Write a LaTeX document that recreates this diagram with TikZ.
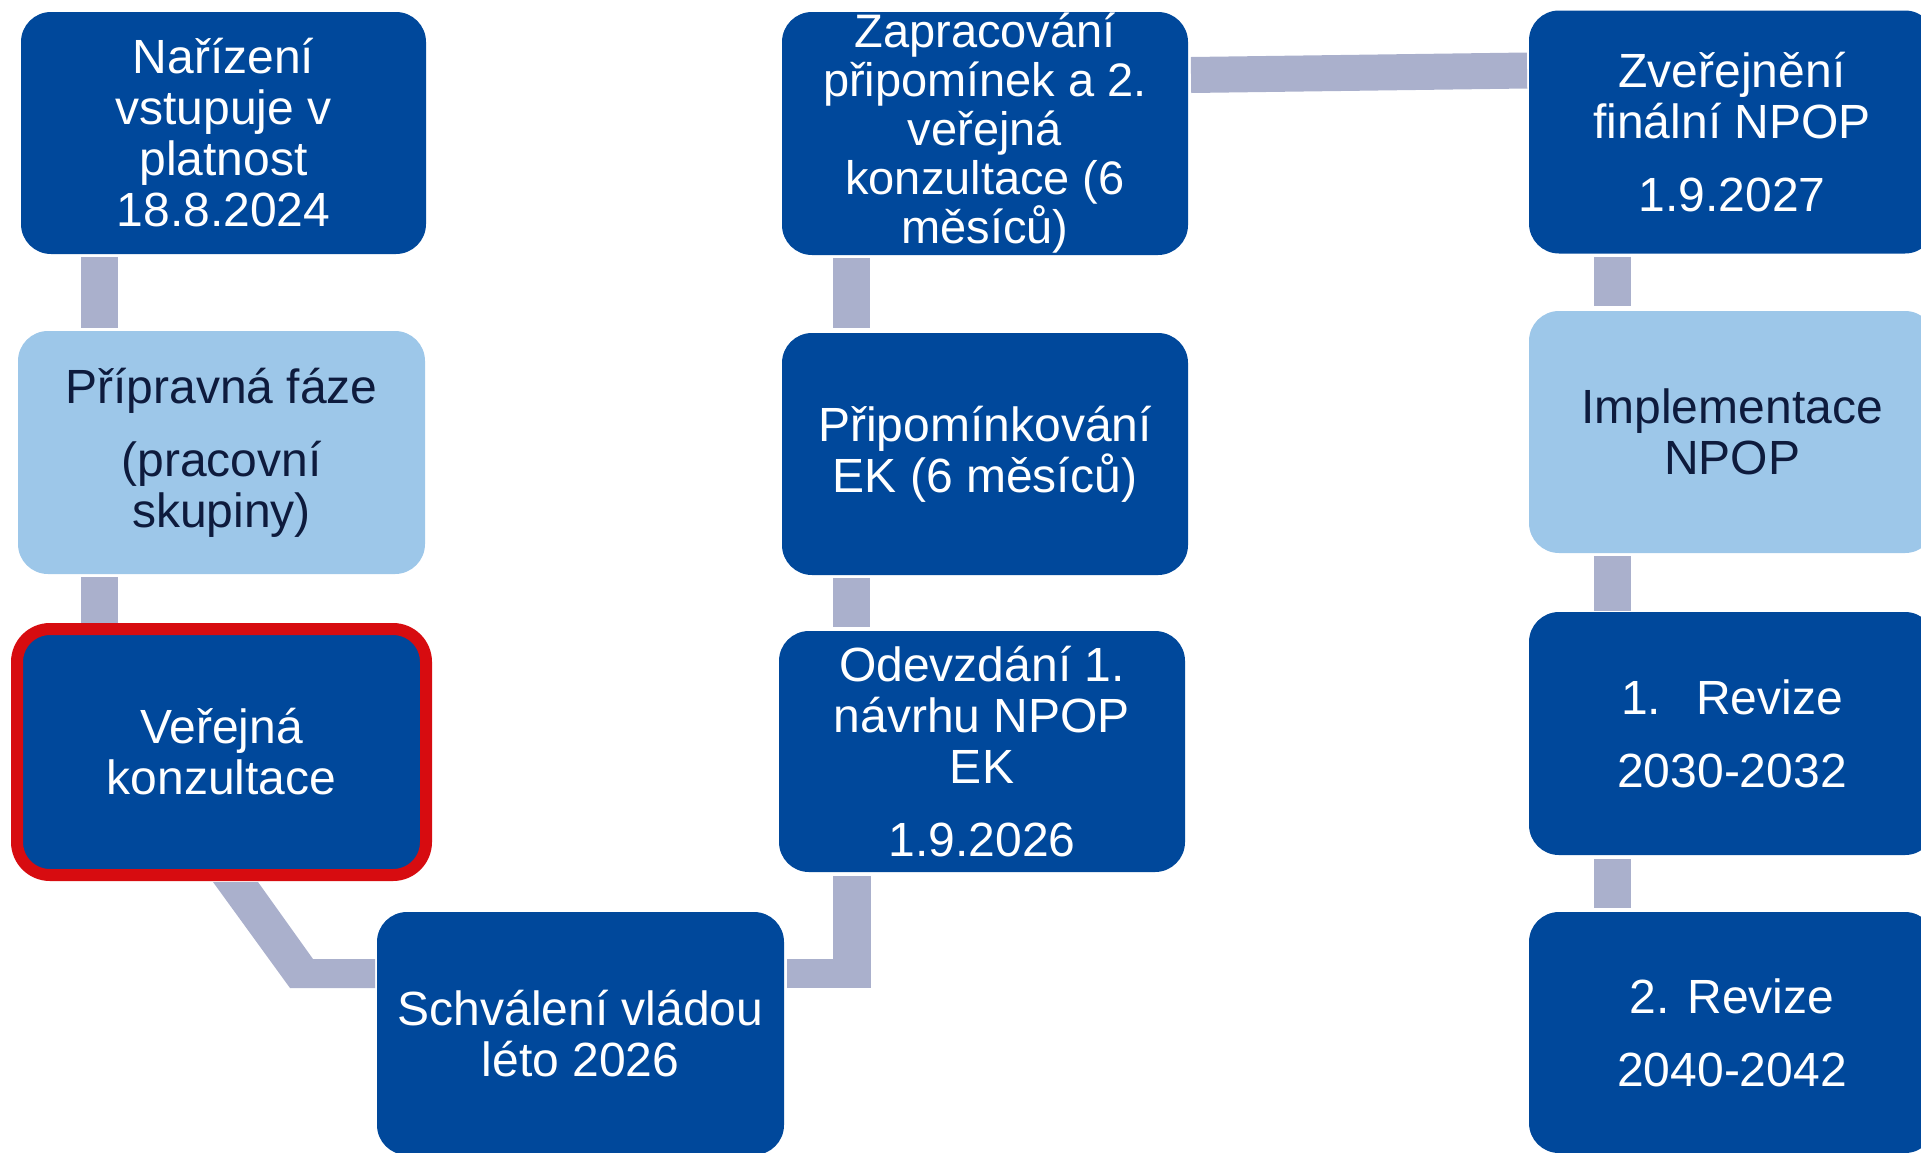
\documentclass[tikz,border=0pt]{standalone}
\usepackage{fontspec}
\setmainfont{Liberation Sans}
\usetikzlibrary{calc,backgrounds}
\definecolor{dblue}{RGB}{0,72,155}
\definecolor{lblue}{RGB}{157,199,233}
\definecolor{connc}{RGB}{170,176,204}
\definecolor{redc}{RGB}{215,12,16}
\definecolor{darktext}{RGB}{14,27,61}
\begin{document}
\begin{tikzpicture}[x=1pt,y=-1pt,
  box/.style={rounded corners=30pt, fill=dblue, text=white, align=center, inner sep=0pt, outer sep=0pt,
    minimum width=407pt, minimum height=243pt, font=\fontsize{48}{51}\selectfont},
  lbox/.style={box, fill=lblue, text=darktext},
  conn/.style={draw=connc, line width=37pt},
]
\useasboundingbox (0,0) rectangle (1921,1152);
\clip (0,0) rectangle (1921,1152);

% column 1
\node[box, minimum width=405pt, minimum height=242pt] (n1) at (223.5,133) {Nařízení\\vstupuje v\\platnost\\18.8.2024};
\node[lbox] (n2) at (221.5,452.5) {Přípravná fáze\\[22pt](pracovní\\skupiny)};
\node[box, draw=redc, line width=12pt, rounded corners=33pt, minimum width=409pt, minimum height=246pt] (n3) at (221.5,752) {Veřejná\\konzultace};
\node[box] (n4) at (580.5,1033.5) {Schválení vládou\\léto 2026};

% column 2
\node[box, minimum width=406pt, minimum height=241pt] (n5) at (982,751.5) {Odevzdání 1.\\návrhu NPOP\\EK\\[22pt]1.9.2026};
\node[box, minimum width=406pt, minimum height=242pt] (n6) at (985,454) {Připomínkování\\EK (6 měsíců)};
\node[box, minimum width=406pt, font=\fontsize{47}{49}\selectfont] (n7) at (985,133.5) {Zapracování\\připomínek a 2.\\veřejná\\konzultace (6\\měsíců)};

% column 3
\node[box, minimum width=406pt] (n8) at (1732,132) {Zveřejnění\\finální NPOP\\[22pt]1.9.2027};
\node[lbox, minimum width=406pt, minimum height=242pt] (n9) at (1732,432) {Implementace\\NPOP};
\node[box, minimum width=406pt] (n10) at (1732,733.5) {1.\hspace{35pt}Revize\\[22pt]2030-2032};
\node[box, minimum width=406pt, minimum height=241pt] (n11) at (1732,1032.5) {2. Revize\\[22pt]2040-2042};

\coordinate (k1) at (99.5,0);
\coordinate (k2) at (851.5,0);
\coordinate (k3) at (1612.5,0);
\coordinate (h5) at (0,973.5);
\coordinate (b1) at (313,959);
\coordinate (b2) at (290,988);
\coordinate (e1) at (n4.west |- b1);
\coordinate (e2) at (n4.west |- b2);

\begin{pgfonlayer}{background}
  \draw[conn] ($(n1.south -| k1)+(0,3)$) -- ($(n2.north -| k1)+(0,-3)$);
  \draw[conn] ($(n2.south -| k1)+(0,3)$) -- ($(n3.north -| k1)+(0,-4)$);
  \fill[connc] ($(n3.south)+(-8.5,7)$) -- ($(n3.south)+(36.5,7)$) -- (b1) -- ($(e1)+(-2,0)$) -- ($(e2)+(-2,0)$) -- (b2) -- cycle;
  \draw[connc, line width=29pt] ($(n4.east |- h5)+(3,0)$) -- ($(k2 |- h5)+(18.5,0)$);
  \draw[conn, line width=38pt] ($(n5.south -| k2)+(0,4)$) -- ($(k2 |- h5)+(0,14.5)$);
  \draw[conn] ($(n7.south -| k2)+(0,3)$) -- ($(n6.north -| k2)+(0,-5)$);
  \draw[conn] ($(n6.south -| k2)+(0,3)$) -- ($(n5.north -| k2)+(0,-4)$);
  \draw[conn, line width=36pt] ($(n7.east)+(3,-58.5)$) -- ($(n8.west)+(-2,-61.5)$);
  \draw[conn] ($(n8.south -| k3)+(0,3)$) -- ($(n9.north -| k3)+(0,-5)$);
  \draw[conn] ($(n9.south -| k3)+(0,3)$) -- ($(n10.north -| k3)+(0,-1)$);
  \draw[conn] ($(n10.south -| k3)+(0,4)$) -- ($(n11.north -| k3)+(0,-4)$);
\end{pgfonlayer}
\end{tikzpicture}
\end{document}
